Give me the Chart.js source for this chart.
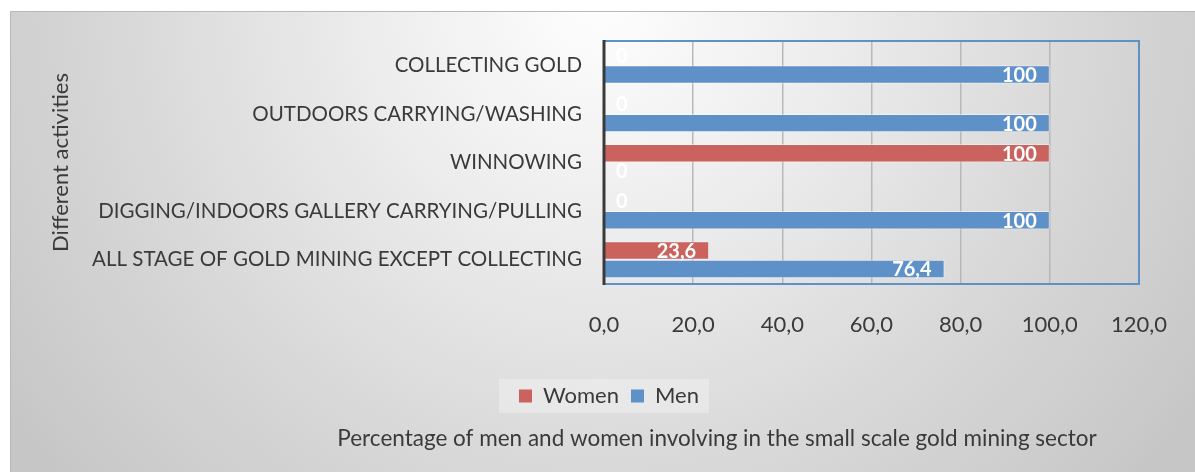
<!DOCTYPE html>
<html>
<head>
<meta charset="utf-8">
<script src="https://cdn.jsdelivr.net/npm/chart.js@4"></script>
<style>
  html, body { margin: 0; padding: 0; background: #fff; }
  #wrap { width: 1195px; height: 472px; position: relative; }
</style>
</head>
<body>
<div id="wrap"><canvas id="chart"></canvas></div>
<script>
const categories = [
  "COLLECTING GOLD",
  "OUTDOORS CARRYING/WASHING",
  "WINNOWING",
  "DIGGING/INDOORS GALLERY CARRYING/PULLING",
  "ALL STAGE OF GOLD MINING EXCEPT COLLECTING",
];
const women = [0, 0, 100, 0, 23.6];
const men = [100, 100, 0, 100, 76.4];
const xTickLabels = ["0,0", "20,0", "40,0", "60,0", "80,0", "100,0", "120,0"];

const FONT = "Lato, 'Open Sans', sans-serif";
const TEXT = "#3a3a3a";
const BLUE = "#5f91c9";
const RED = "#ca635d";

function formatValue(v) {
  return String(v).replace(".", ",");
}

// grey radial backdrop like the office chart style, plus the legend panel
const backdrop = {
  id: "backdrop",
  beforeDraw(chart) {
    const { ctx, width, height } = chart;
    ctx.save();
    ctx.fillStyle = "#ffffff";
    ctx.fillRect(0, 0, width, height);
    const g = ctx.createRadialGradient(600, 0, 0, 600, 0, 720);
    g.addColorStop(0, "#fefefe");
    g.addColorStop(0.3, "#eeeeee");
    g.addColorStop(0.7, "#d6d6d6");
    g.addColorStop(0.92, "#cbcbcb");
    g.addColorStop(1, "#c6c6c6");
    ctx.fillStyle = g;
    ctx.fillRect(10, 11, width - 10, height - 11);
    ctx.strokeStyle = "#b8b8b8";
    ctx.lineWidth = 1;
    ctx.beginPath();
    ctx.moveTo(10.5, height);
    ctx.lineTo(10.5, 11.5);
    ctx.lineTo(width, 11.5);
    ctx.stroke();

    const boxes = chart.legend.legendHitBoxes;
    if (boxes && boxes.length) {
      const l = Math.min(...boxes.map((b) => b.left)) - 20;
      const r = Math.max(...boxes.map((b) => b.left + b.width)) + 10;
      const t = Math.min(...boxes.map((b) => b.top)) - 6;
      const btm = Math.max(...boxes.map((b) => b.top + b.height)) + 6;
      ctx.fillStyle = "rgba(255,255,255,0.3)";
      ctx.fillRect(l, t, r - l, btm - t);
    }
    ctx.restore();
  },
  afterLayout(chart) {
    // nudge the bottom caption and legend to where the original sits
    chart.titleBlock.left += 125;
    chart.titleBlock.right += 125;
    chart.legend.left += 17;
    chart.legend.right += 17;
  },
};

// frame of the plot area and value labels inside the bars
const frameAndLabels = {
  id: "frameAndLabels",
  afterDatasetsDraw(chart) {
    const { ctx, chartArea: a } = chart;
    ctx.save();
    ctx.strokeStyle = BLUE;
    ctx.lineWidth = 2;
    ctx.beginPath();
    ctx.moveTo(a.left, a.top);
    ctx.lineTo(a.right, a.top);
    ctx.lineTo(a.right, a.bottom);
    ctx.lineTo(a.left, a.bottom);
    ctx.stroke();
    ctx.strokeStyle = "#3a3a3a";
    ctx.lineWidth = 3;
    ctx.beginPath();
    ctx.moveTo(a.left, a.top - 1);
    ctx.lineTo(a.left, a.bottom + 1);
    ctx.stroke();

    ctx.font = "bold 20px " + FONT;
    ctx.fillStyle = "#ffffff";
    ctx.textBaseline = "middle";
    chart.data.datasets.forEach((ds, di) => {
      const meta = chart.getDatasetMeta(di);
      meta.data.forEach((bar, i) => {
        const v = ds.data[i];
        if (v === 0) {
          ctx.textAlign = "left";
          ctx.fillText(formatValue(v), bar.x + 12, bar.y);
        } else {
          ctx.textAlign = "right";
          ctx.fillText(formatValue(v), bar.x - 13, bar.y + 1);
        }
      });
    });
    ctx.restore();
  },
};

new Chart(document.getElementById("chart"), {
  type: "bar",
  data: {
    labels: categories,
    datasets: [
      {
        label: "Women",
        data: women,
        backgroundColor: RED,
        borderColor: "rgba(255,255,255,0.45)",
        borderWidth: 1,
        categoryPercentage: 0.76,
        barPercentage: 1.0,
      },
      {
        label: "Men",
        data: men,
        backgroundColor: BLUE,
        borderColor: "rgba(255,255,255,0.45)",
        borderWidth: 1,
        categoryPercentage: 0.76,
        barPercentage: 1.0,
      },
    ],
  },
  options: {
    indexAxis: "y",
    responsive: true,
    maintainAspectRatio: false,
    animation: false,
    layout: { padding: { left: 42, right: 53, top: 41, bottom: 10 } },
    plugins: {
      legend: {
        position: "bottom",
        labels: {
          font: { family: FONT, size: 22 },
          color: TEXT,
          boxWidth: 13,
          boxHeight: 13,
          padding: 12,
          generateLabels(chart) {
            return chart.data.datasets.map((ds, i) => ({
              text: ds.label,
              fillStyle: ds.backgroundColor,
              strokeStyle: ds.backgroundColor,
              lineWidth: 0,
              fontColor: TEXT,
              hidden: false,
              datasetIndex: i,
            }));
          },
        },
      },
      title: {
        display: true,
        position: "bottom",
        text: "Percentage of men and women involving in the small scale gold mining sector",
        font: { family: FONT, size: 22.5, weight: "normal" },
        color: TEXT,
        padding: { top: 8, bottom: 10 },
      },
      tooltip: { enabled: false },
    },
    scales: {
      x: {
        min: 0,
        max: 120,
        ticks: {
          stepSize: 20,
          padding: 28,
          font: { family: FONT, size: 22 },
          color: TEXT,
          callback: (v, i) => xTickLabels[i],
        },
        grid: { color: "#b8b8b8", lineWidth: 1.5, drawTicks: false },
        border: { display: false },
        afterFit(scale) {
          scale.height = 89;
        },
      },
      y: {
        ticks: {
          font: { family: FONT, size: 20.5 },
          color: TEXT,
          padding: 22,
        },
        grid: { display: false, drawTicks: false },
        border: { display: false },
        title: {
          display: true,
          text: "Different activities",
          font: { family: FONT, size: 22 },
          color: TEXT,
          padding: { top: 6, bottom: 0 },
        },
        afterFit(scale) {
          scale.width = 562;
        },
      },
    },
  },
  plugins: [backdrop, frameAndLabels],
});
</script>
</body>
</html>
